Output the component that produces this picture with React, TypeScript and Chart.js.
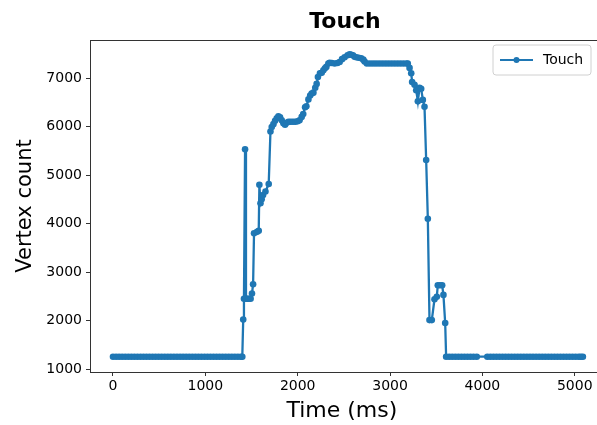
import React, { useEffect, useRef } from "react";
import { Chart, registerables } from "chart.js";

Chart.register(...registerables);

const chartTitle = "Touch";
const seriesLabel = "Touch";
const xAxisLabel = "Time (ms)";
const yAxisLabel = "Vertex count";
const xTicks = [0, 1000, 2000, 3000, 4000, 5000];
const yTicks = [1000, 2000, 3000, 4000, 5000, 6000, 7000];

const timeMs = [
  0, 33, 66, 99, 132, 165, 198, 231, 264, 297, 330, 363, 396, 429, 462, 495, 528, 561, 594, 627, 660, 693,
  726, 759, 792, 825, 858, 891, 924, 957, 990, 1023, 1056, 1089, 1122, 1155, 1188, 1221, 1254, 1287, 1320,
  1353, 1386, 1400,
  1410, 1418, 1430, 1440, 1455, 1470, 1490, 1505, 1517, 1527, 1560, 1578, 1585, 1597, 1610, 1625, 1651, 1686,
  1705, 1719, 1737, 1755, 1773, 1791, 1809, 1827, 1845, 1863, 1881, 1900, 1925, 1950, 1975, 2000, 2020,
  2043, 2060, 2080, 2094, 2116, 2135, 2151, 2170, 2190, 2205, 2219, 2241, 2260, 2278, 2295, 2310,
  2332, 2346, 2370, 2400, 2430, 2454, 2480, 2508, 2540, 2562, 2580, 2598, 2616, 2634, 2660, 2688, 2710, 2724,
  2749, 2782, 2815, 2848, 2881, 2914, 2947, 2980, 3013, 3046, 3079, 3112, 3145, 3178, 3192,
  3211, 3229, 3239, 3265, 3283, 3301, 3319, 3337, 3355, 3373, 3391, 3409, 3427, 3452, 3481, 3506, 3517, 3540,
  3564, 3578, 3597,
  3607, 3640, 3673, 3706, 3739, 3772, 3805, 3838, 3871, 3904, 3939,
  4053, 4086, 4119, 4152, 4185, 4218, 4251, 4284, 4317, 4350, 4383, 4416, 4449, 4482, 4515, 4548, 4581,
  4614, 4647, 4680, 4713, 4746, 4779, 4812, 4845, 4878, 4911, 4944, 4977, 5010, 5043, 5066, 5088,
];

const vertexCount = [
  1255, 1255, 1255, 1255, 1255, 1255, 1255, 1255, 1255, 1255, 1255, 1255, 1255, 1255, 1255, 1255, 1255, 1255,
  1255, 1255, 1255, 1255, 1255, 1255, 1255, 1255, 1255, 1255, 1255, 1255, 1255, 1255, 1255, 1255, 1255, 1255,
  1255, 1255, 1255, 1255, 1255, 1255, 1255, 1255,
  2020, 2450, 5530, 2450, 2450, 2450, 2450, 2560, 2750, 3800, 3830, 3850, 4800, 4420, 4500, 4590, 4660, 4815,
  5900, 5990, 6050, 6120, 6170, 6210, 6190, 6130, 6070, 6040, 6080, 6100, 6100, 6100, 6100, 6110, 6130,
  6200, 6260, 6400, 6420, 6560, 6640, 6680, 6700, 6800, 6880, 7020, 7100, 7110, 7160, 7200, 7230,
  7300, 7315, 7310, 7300, 7310, 7330, 7390, 7430, 7470, 7490, 7480, 7470, 7440, 7430, 7420, 7410, 7380, 7340,
  7300, 7300, 7300, 7300, 7300, 7300, 7300, 7300, 7300, 7300, 7300, 7300, 7300, 7300, 7300,
  7210, 7100, 6920, 6860, 6750, 6520, 6800, 6780, 6550, 6410, 5310, 4100, 2010, 2010, 2440, 2490, 2730, 2730,
  2730, 2530, 1950,
  1255, 1255, 1255, 1255, 1255, 1255, 1255, 1255, 1255, 1255, 1255,
  1255, 1255, 1255, 1255, 1255, 1255, 1255, 1255, 1255, 1255, 1255, 1255, 1255, 1255, 1255, 1255, 1255,
  1255, 1255, 1255, 1255, 1255, 1255, 1255, 1255, 1255, 1255, 1255, 1255, 1255, 1255, 1255, 1255,
];

const BLUE = "#1f77b4";
const SPINE = "#333";
const FONT = "'DejaVu Sans', sans-serif";
const W = 597;
const H = 425;

export default function App() {
  const ref = useRef<HTMLCanvasElement>(null);

  useEffect(() => {
    const canvas = ref.current;
    if (!canvas) return;

    const decor = {
      id: "decor",
      afterDraw(chart: any) {
        const { ctx, chartArea } = chart;
        ctx.save();
        // top and bottom spines, running to the right edge of the picture
        ctx.strokeStyle = SPINE;
        ctx.lineWidth = 1;
        const top = Math.round(chartArea.top) + 0.5;
        const bottom = Math.round(chartArea.bottom) + 0.5;
        ctx.beginPath();
        ctx.moveTo(chartArea.left, top);
        ctx.lineTo(W, top);
        ctx.moveTo(chartArea.left, bottom);
        ctx.lineTo(W, bottom);
        ctx.stroke();

        // title
        ctx.fillStyle = "#000";
        ctx.font = `bold 22px ${FONT}`;
        ctx.textAlign = "center";
        ctx.textBaseline = "middle";
        ctx.fillText(chartTitle, 345, 22);

        // legend
        const lx = 493, ly = 45, lw = 98, lh = 30, r = 3;
        ctx.beginPath();
        ctx.moveTo(lx + r, ly);
        ctx.lineTo(lx + lw - r, ly);
        ctx.quadraticCurveTo(lx + lw, ly, lx + lw, ly + r);
        ctx.lineTo(lx + lw, ly + lh - r);
        ctx.quadraticCurveTo(lx + lw, ly + lh, lx + lw - r, ly + lh);
        ctx.lineTo(lx + r, ly + lh);
        ctx.quadraticCurveTo(lx, ly + lh, lx, ly + lh - r);
        ctx.lineTo(lx, ly + r);
        ctx.quadraticCurveTo(lx, ly, lx + r, ly);
        ctx.closePath();
        ctx.fillStyle = "rgba(255,255,255,0.8)";
        ctx.fill();
        ctx.strokeStyle = "#d0d0d0";
        ctx.lineWidth = 1;
        ctx.stroke();

        const my = ly + lh / 2;
        ctx.strokeStyle = BLUE;
        ctx.lineWidth = 2.2;
        ctx.beginPath();
        ctx.moveTo(500, my);
        ctx.lineTo(533, my);
        ctx.stroke();
        ctx.fillStyle = BLUE;
        ctx.beginPath();
        ctx.arc(516.5, my, 3, 0, Math.PI * 2);
        ctx.fill();

        ctx.fillStyle = "#000";
        ctx.font = `14px ${FONT}`;
        ctx.textAlign = "left";
        ctx.textBaseline = "middle";
        ctx.fillText(seriesLabel, 543, my);
        ctx.restore();
      },
    };

    const chart = new Chart(canvas, {
      type: "line",
      data: {
        datasets: [
          {
            label: seriesLabel,
            data: timeMs.map((t, i) => ({ x: t, y: vertexCount[i] })),
            borderColor: BLUE,
            backgroundColor: BLUE,
            borderWidth: 2.3,
            pointRadius: 3.3,
            pointHoverRadius: 3.3,
            pointBorderWidth: 0,
            pointBackgroundColor: BLUE,
            tension: 0,
            fill: false,
          },
        ],
      },
      options: {
        responsive: false,
        animation: false,
        devicePixelRatio: 1,
        layout: { padding: { top: 40, left: 0, right: 0, bottom: 0 } },
        plugins: {
          legend: { display: false },
          title: { display: false },
          tooltip: { enabled: false },
        },
        scales: {
          x: {
            type: "linear",
            min: -249,
            max: 5205,
            afterFit: (s: any) => {
              s.height = 53;
            },
            afterBuildTicks: (s: any) => {
              s.ticks = xTicks.map((v) => ({ value: v }));
            },
            ticks: {
              color: "#000",
              font: { family: FONT, size: 14 },
              padding: 2,
              maxRotation: 0,
              callback: (v: any) => String(v),
            },
            grid: { drawOnChartArea: false, drawTicks: true, tickLength: 4, color: SPINE },
            border: { display: false },
            title: {
              display: true,
              text: xAxisLabel,
              color: "#000",
              font: { family: FONT, size: 22 },
              padding: { top: 0, bottom: 1 },
            },
          },
          y: {
            type: "linear",
            min: 940,
            max: 7785,
            afterFit: (s: any) => {
              s.width = 90;
            },
            afterBuildTicks: (s: any) => {
              s.ticks = yTicks.map((v) => ({ value: v }));
            },
            ticks: {
              color: "#000",
              font: { family: FONT, size: 14 },
              padding: 4,
              callback: (v: any) => String(v),
            },
            grid: { drawOnChartArea: false, drawTicks: true, tickLength: 4, color: SPINE },
            border: { display: true, color: SPINE, width: 1 },
            title: {
              display: true,
              text: yAxisLabel,
              color: "#000",
              font: { family: FONT, size: 21 },
              padding: { top: 13, bottom: 0 },
            },
          },
        },
      },
      plugins: [decor],
    } as any);

    return () => chart.destroy();
  }, []);

  return (
    <div
      style={{
        position: "absolute",
        left: 0,
        top: 0,
        width: W,
        height: H,
        overflow: "hidden",
        background: "#fff",
      }}
    >
      <canvas ref={ref} width={W} height={H} style={{ display: "block", width: W, height: H }} />
    </div>
  );
}
